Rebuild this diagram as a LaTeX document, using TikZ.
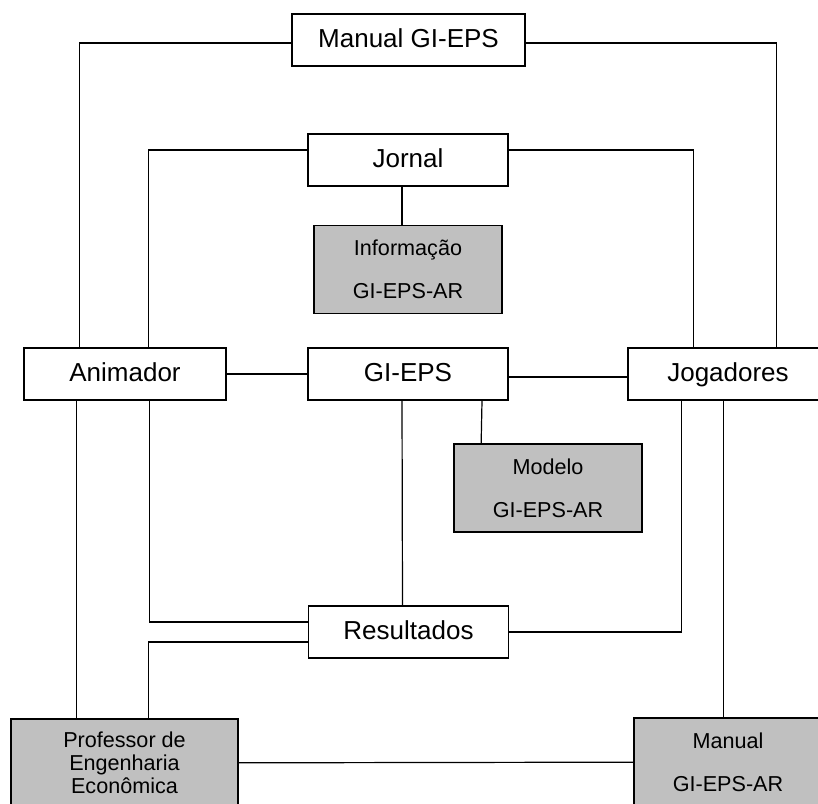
\documentclass[tikz,border=0pt]{standalone}
\usepackage{fontspec}
\setmainfont{Liberation Sans}
\usepackage{tikz}

\begin{document}
\begin{tikzpicture}[x=0.5pt,y=-0.5pt,
    box/.style={draw,line width=0.85pt,fill=white,inner sep=0pt,text height=9.4pt,text depth=2pt,
      minimum width=100pt,minimum height=26pt,font=\fontsize{13}{15}\selectfont},
    greybox/.style={draw,line width=0.85pt,fill=boxgrey,inner sep=0pt,align=center,
      minimum width=94pt,minimum height=44pt,font=\fontsize{10.8}{13}\selectfont},
    link/.style={line width=0.6pt}]
  \definecolor{boxgrey}{HTML}{C0C0C0}
  \clip (0,0) rectangle (818,803);
  \fill[white] (0,0) rectangle (818,803);
  \node[box,minimum width=116.5pt] (manual) at (408.5,40) {Manual GI-EPS};
  \node[box] (jornal) at (408,160) {Jornal};
  \node[greybox] (info) at (408,269.5) {Informação\\[8.5pt]GI-EPS-AR};
  \node[box,minimum width=101pt] (anim) at (125,374) {Animador};
  \node[box] (gieps) at (408,374) {GI-EPS};
  \node[box] (jog) at (728,374) {Jogadores};
  \node[greybox] (modelo) at (548,488) {Modelo\\[8.5pt]GI-EPS-AR};
  \node[box] (res) at (408.5,632) {Resultados};
  \node[greybox,minimum width=113.5pt,font=\fontsize{10.8}{11.5}\selectfont]
    (prof) at (124.5,763) {Professor de\\Engenharia\\Econômica};
  \node[greybox] (manar) at (728,762) {Manual\\[8.5pt]GI-EPS-AR};
  \draw[link] ([shift={(56,0)}]anim.north west) |- ([shift={(0,3)}]manual.west);
  \draw[link] ([shift={(149,0)}]jog.north west) |- ([shift={(0,3)}]manual.east);
  \draw[link] ([shift={(125,0)}]anim.north west) |- ([shift={(0,-10)}]jornal.west);
  \draw[link] ([shift={(66,0)}]jog.north west) |- ([shift={(0,-10)}]jornal.east);
  \draw[link] ([shift={(-6,0)}]jornal.south) -- ([shift={(-6,0)}]info.north);
  \draw[link] (anim) -- (gieps);
  \draw[link] ([shift={(0,3)}]gieps.east) -- ([shift={(0,3)}]jog.west);
  \draw[link] ([shift={(-6,0)}]gieps.south) -- ([shift={(-6,0)}]res.north);
  \draw[link] ([shift={(74,0)}]gieps.south) -- ([shift={(28,0)}]modelo.north west);
  \draw[link] ([shift={(126,0)}]anim.south west) |- ([shift={(0,-10)}]res.west);
  \draw[link] ([shift={(138,0)}]prof.north west) |- ([shift={(0,10)}]res.west);
  \draw[link] ([shift={(53,0)}]anim.south west) -- ([shift={(66,0)}]prof.north west);
  \draw[link] ([shift={(54,0)}]jog.south west) |- (res.east);
  \draw[link] ([shift={(96,0)}]jog.south west) -- ([shift={(90,0)}]manar.north west);
  \draw[link] (prof) -- (manar);
\end{tikzpicture}
\end{document}
